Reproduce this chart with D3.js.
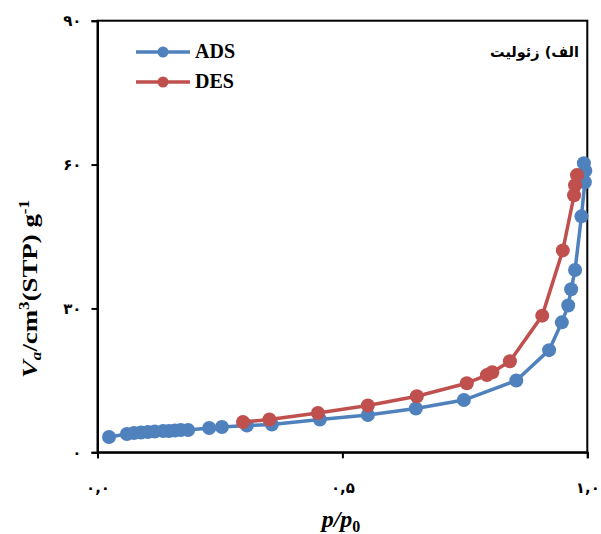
<!DOCTYPE html>
<html>
<head>
<meta charset="utf-8">
<script src="https://cdn.jsdelivr.net/npm/d3@7"></script>
<style>
  html, body { margin: 0; padding: 0; background: #fff; }
  svg { display: block; }
</style>
</head>
<body>
<svg id="chart" width="601" height="534"></svg>
<script>
// ---- data ----
const adsX = [0.0235, 0.060, 0.0745, 0.0888, 0.103, 0.117, 0.134, 0.146, 0.158, 0.170, 0.185, 0.228, 0.254,
              0.305, 0.356, 0.454, 0.552, 0.650, 0.748, 0.855, 0.922, 0.948, 0.961, 0.967, 0.975, 0.988, 0.995, 0.996, 0.993];
const adsY = [3.19, 3.81, 4.02, 4.12, 4.23, 4.33, 4.44, 4.44, 4.54, 4.65, 4.65, 5.06, 5.27,
              5.58, 5.79, 6.83, 7.77, 9.13, 10.9, 14.96, 21.3, 27.1, 30.6, 34.0, 38.0, 49.2, 56.3, 58.7, 60.3];
const desX = [0.979, 0.975, 0.973, 0.950, 0.908, 0.842, 0.806, 0.795, 0.754, 0.652, 0.552, 0.450, 0.351, 0.297];
const desY = [57.8, 55.7, 53.6, 42.1, 28.5, 19.0, 16.7, 16.1, 14.4, 11.7, 9.75, 8.19, 6.83, 6.31];
const seriesNames = ["ADS", "DES"];
const seriesColors = ["#4F81BD", "#C0504D"];
const yTicks = [0, 30, 60, 90];
const yTickLabels = ["۰", "۳۰", "۶۰", "۹۰"];
const xTicks = [0, 0.5, 1.0];
const xTickLabels = ["۰,۰", "۰,۵", "۱,۰"];
const titleText = "الف) زئولیت";

// ---- layout ----
const svg = d3.select("#chart");
const L = 97.5, R = 587.3, T = 20.7, B = 452.3;
const x = d3.scaleLinear().domain([0, 1]).range([L, R]);
const y = d3.scaleLinear().domain([0, 90]).range([B, T]);

// plot frame
svg.append("rect").attr("x", L).attr("y", T).attr("width", R - L).attr("height", B - T)
  .attr("fill", "none").attr("stroke", "#000").attr("stroke-width", 2);

// axes
const yAxis = d3.axisLeft(y).tickValues(yTicks).tickFormat((d, i) => yTickLabels[i]).tickSize(6).tickPadding(10);
const gy = svg.append("g").attr("transform", `translate(${L},0)`).call(yAxis);
gy.select(".domain").attr("stroke", "#000").attr("stroke-width", 2);
gy.selectAll(".tick line").attr("stroke", "#000").attr("stroke-width", 2);
gy.selectAll(".tick text").attr("font-family", "DejaVu Sans").attr("font-weight", "bold")
  .attr("font-size", 15).attr("fill", "#000").attr("direction", "ltr");

const xAxis = d3.axisBottom(x).tickValues(xTicks).tickFormat((d, i) => xTickLabels[i]).tickSize(6).tickPadding(24);
const gx = svg.append("g").attr("transform", `translate(0,${B})`).call(xAxis);
gx.select(".domain").attr("stroke", "#000").attr("stroke-width", 2);
gx.selectAll(".tick line").attr("stroke", "#000").attr("stroke-width", 2);
gx.selectAll(".tick text").attr("font-family", "DejaVu Sans").attr("font-weight", "bold")
  .attr("font-size", 15).attr("fill", "#000").attr("direction", "ltr");

// series
const series = [
  adsX.map((v, i) => [v, adsY[i]]),
  desX.map((v, i) => [v, desY[i]])
];
const line = d3.line().x(d => x(d[0])).y(d => y(d[1]));
series.forEach((data, si) => {
  const g = svg.append("g");
  g.append("path").datum(data).attr("d", line).attr("fill", "none")
    .attr("stroke", seriesColors[si]).attr("stroke-width", 3.5).attr("stroke-linejoin", "round");
  g.selectAll("circle").data(data).join("circle")
    .attr("cx", d => x(d[0])).attr("cy", d => y(d[1])).attr("r", 7)
    .attr("fill", seriesColors[si]);
});

// legend
seriesNames.forEach((name, i) => {
  const ly = 52 + i * 30;
  const lg = svg.append("g");
  lg.append("line").attr("x1", 136).attr("x2", 190).attr("y1", ly).attr("y2", ly)
    .attr("stroke", seriesColors[i]).attr("stroke-width", 3.5);
  lg.append("circle").attr("cx", 163).attr("cy", ly).attr("r", 5.5).attr("fill", seriesColors[i]);
  lg.append("text").attr("x", 195).attr("y", ly + 6).text(name)
    .attr("font-family", "Liberation Serif").attr("font-weight", "bold").attr("font-size", 20).attr("fill", "#000");
});

// title (Persian)
svg.append("text").attr("x", 579).attr("y", 57).attr("text-anchor", "start")
  .attr("direction", "rtl")
  .attr("font-family", "DejaVu Sans").attr("font-weight", "bold").attr("font-size", 14.5).attr("fill", "#000")
  .text(titleText);

// y-axis label
const yl = svg.append("text").attr("transform", "translate(37,289) rotate(-90) scale(1.22,1)")
  .attr("text-anchor", "middle").attr("font-family", "Liberation Serif").attr("font-weight", "bold")
  .attr("font-size", 22).attr("fill", "#000");
yl.append("tspan").attr("font-style", "italic").text("V");
yl.append("tspan").attr("font-style", "italic").attr("font-size", 14).attr("dy", 4).text("a");
yl.append("tspan").attr("dy", -4).text("/cm");
yl.append("tspan").attr("font-size", 14).attr("dy", -8).text("3");
yl.append("tspan").attr("dy", 8).text("(STP) g");
yl.append("tspan").attr("font-size", 14).attr("dy", -8).text("-1");

// x-axis label
const xl = svg.append("text").attr("x", 341).attr("y", 527).attr("text-anchor", "middle")
  .attr("font-family", "Liberation Serif").attr("font-weight", "bold").attr("font-size", 24).attr("fill", "#000");
xl.append("tspan").attr("font-style", "italic").text("p");
xl.append("tspan").attr("font-style", "italic").text("/");
xl.append("tspan").attr("font-style", "italic").text("p");
xl.append("tspan").attr("font-size", 16).attr("dy", 5).text("0");
</script>
</body>
</html>
